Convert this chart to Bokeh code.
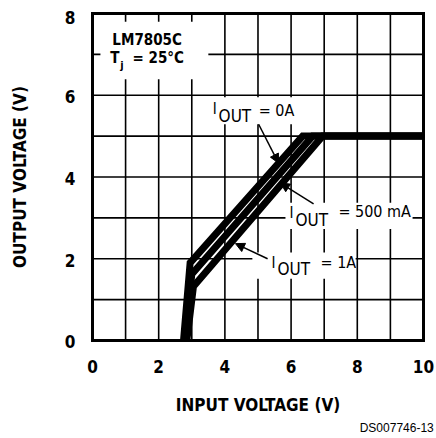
from bokeh.plotting import figure
from bokeh.models import (FixedTicker, Label, BoxAnnotation, Arrow, NormalHead,
                          LinearAxis, Range1d)
from bokeh.embed import file_html
from bokeh.resources import INLINE

# ---- data ----
# output is 0 V below the knee (hidden by the frame), so curves start at the knee
vin_0a = [2.75, 2.95, 6.35, 10]
vout_0a = [0, 1.9, 5.0, 5.0]
vin_500ma = [2.8, 3.0, 6.65, 10]
vout_500ma = [0, 1.62, 5.0, 5.0]
vin_1a = [2.85, 3.05, 6.95, 10]
vout_1a = [0, 1.32, 5.0, 5.0]

x_ticks = [0, 2, 4, 6, 8, 10]
y_ticks = [0, 2, 4, 6, 8]
x_grid = list(range(0, 11))
y_grid = list(range(0, 9))

FONT = "DejaVu Sans Condensed"

# frame covers the whole canvas; chart area 0..10 x 0..8 sits inside it
XR = (-2.779, 10.393)
YR = (-2.398, 8.318)
PXY = 40.875  # pixels per volt (vertical)

p = figure(width=436, height=438, x_range=XR, y_range=YR,
           output_backend="svg", toolbar_location=None,
           min_border_left=0, min_border_right=0, min_border_top=0, min_border_bottom=0)
p.background_fill_color = "white"
p.border_fill_color = "white"
p.outline_line_color = None
p.xgrid.visible = False
p.ygrid.visible = False

d1 = 1.5 / PXY
d8 = 4.5 / PXY
p.extra_y_ranges = {"ylab": Range1d(YR[0] + d1, YR[1] + d1),
                    "ylab8": Range1d(YR[0] + d8, YR[1] + d8)}

def style_axis(ax):
    ax.axis_line_color = None
    ax.major_tick_line_color = None
    ax.minor_tick_line_color = None
    ax.major_tick_out = 0
    ax.major_tick_in = 0
    ax.major_label_text_font = FONT
    ax.major_label_text_font_style = "bold"
    ax.major_label_text_font_size = "17px"
    ax.major_label_text_color = "black"
    ax.axis_label_text_font = FONT
    ax.axis_label_text_font_style = "bold"
    ax.axis_label_text_font_size = "17px"
    ax.axis_label_text_color = "black"

xa = p.xaxis[0]
style_axis(xa)
xa.fixed_location = 0
xa.bounds = (x_grid[0], x_grid[-1])
xa.ticker = FixedTicker(ticks=x_ticks)
xa.major_label_standoff = 20
xa.axis_label = "INPUT VOLTAGE (V)"
xa.axis_label_standoff = 18

ya = p.yaxis[0]
style_axis(ya)
ya.y_range_name = "ylab"
ya.fixed_location = 0
ya.bounds = (y_grid[0] + d1, y_grid[-1] + d1)
ya.ticker = FixedTicker(ticks=y_ticks[:-1])
ya.major_label_standoff = 17
ya.axis_label = "OUTPUT VOLTAGE (V)"
ya.axis_label_standoff = 32

ya8 = LinearAxis(y_range_name="ylab8", fixed_location=0,
                 ticker=FixedTicker(ticks=y_ticks[-1:]), bounds=(y_ticks[-1] - 1, y_ticks[-1] + 1))
style_axis(ya8)
ya8.major_label_standoff = 17
p.add_layout(ya8, "left")

# grid
p.segment(x0=x_grid, y0=[y_grid[0]] * len(x_grid), x1=x_grid, y1=[y_grid[-1]] * len(x_grid),
          line_color="black", line_width=1.6)
p.segment(x0=[x_grid[0]] * len(y_grid), y0=y_grid, x1=[x_grid[-1]] * len(y_grid), y1=y_grid,
          line_color="black", line_width=1.6)

# curves
for xs, ys in ((vin_0a, vout_0a), (vin_500ma, vout_500ma), (vin_1a, vout_1a)):
    p.line(xs, ys, line_color="black", line_width=7, line_join="miter")

# frame
p.quad(left=[x_grid[0]], right=[x_grid[-1]], bottom=[y_grid[0]], top=[y_grid[-1]],
       fill_color=None, line_color="black", line_width=3, line_join="miter")

# white boxes behind annotation texts
for l, r, b, t in ((0.24, 3.5, 6.39, 7.8), (3.41, 6.22, 5.29, 5.95),
                   (5.83, 9.67, 2.73, 3.37), (4.83, 7.95, 1.51, 2.15)):
    p.add_layout(BoxAnnotation(left=l, right=r, bottom=b, top=t,
                               fill_color="white", fill_alpha=1.0, line_color=None))

def lab(x, y, text, size, bold=False, font=FONT, align="left", baseline="middle"):
    p.add_layout(Label(x=x, y=y, text=text, text_font=font, text_font_size=size,
                       text_font_style="bold" if bold else "normal",
                       text_baseline=baseline, text_align=align, text_color="black"))

lab(0.60, 7.36, "LM7805C", "15px", bold=True)
lab(0.54, 6.92, "T", "15px", bold=True)
lab(0.84, 6.72, "j", "11px", bold=True)
lab(1.21, 6.92, "= 25°C", "15px", bold=True)

for (xi, yi, xo, yo, xe, ye, txt) in ((3.63, 5.66, 3.81, 5.50, 5.02, 5.63, "= 0A"),
                                      (5.95, 3.12, 6.13, 2.96, 7.43, 3.15, "= 500 mA"),
                                      (5.41, 1.90, 5.59, 1.74, 6.89, 1.90, "= 1A")):
    lab(xi, yi, "I", "15px")
    lab(xo, yo, "OUT", "17px")
    lab(xe, ye, txt, "16px")

for (xs, ys, xe, ye) in ((5.02, 5.29, 5.62, 4.34), (6.68, 3.34, 5.68, 3.85), (5.29, 2.0, 4.32, 2.37)):
    p.add_layout(Arrow(x_start=xs, y_start=ys, x_end=xe, y_end=ye, line_width=1.5, line_color="black",
                       end=NormalHead(size=9, fill_color="black", line_color="black")))

lab(10.31, -2.15, "DS007746-13", "12px", font="Liberation Sans", align="right")

open("out.html", "w").write(file_html(p, INLINE))
